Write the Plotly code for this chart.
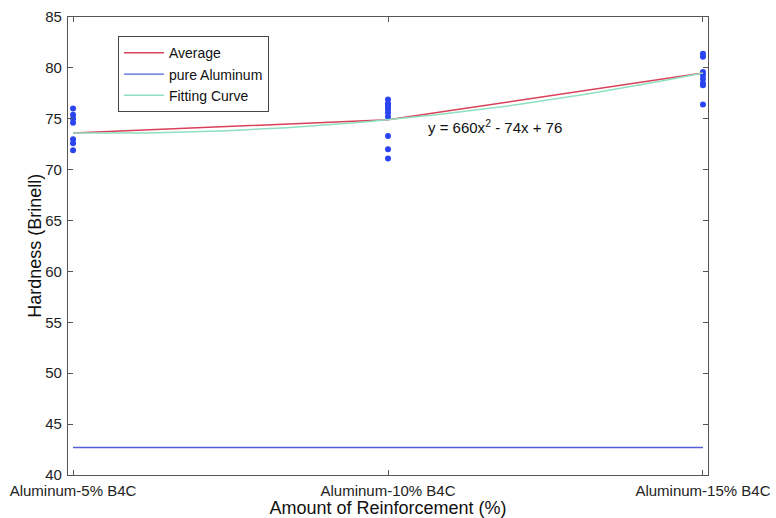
import numpy as np
import plotly.graph_objects as go

categories = ["Aluminum-5% B4C", "Aluminum-10% B4C", "Aluminum-15% B4C"]
reinforcement = [0.05, 0.10, 0.15]
hardness_5 = [76.0, 75.4, 75.0, 74.6, 73.0, 72.6, 71.9]
hardness_10 = [76.9, 76.5, 76.3, 76.1, 75.9, 75.6, 75.2, 73.3, 72.0, 71.1]
hardness_15 = [81.4, 81.1, 79.6, 79.3, 78.9, 78.5, 78.3, 76.4]
average = [73.6, 74.9, 79.5]
pure_aluminum = [42.7, 42.7, 42.7]

font = "Liberation Sans, Arial, sans-serif"
fig = go.Figure()

samples = [hardness_5, hardness_10, hardness_15]
for i, vals in enumerate(samples):
    fig.add_trace(go.Scatter(x=[i] * len(vals), y=vals, mode="markers",
                             marker=dict(color="#2a45f0", size=6),
                             showlegend=False, hoverinfo="y"))

fig.add_trace(go.Scatter(x=[0, 1, 2], y=average, mode="lines", name="Average",
                         line=dict(color="#d9405a", width=1.5)))
fig.add_trace(go.Scatter(x=[0, 1, 2], y=pure_aluminum, mode="lines", name="pure Aluminum",
                         line=dict(color="#5060d8", width=1.3)))

coef = np.polyfit(reinforcement, average, 2)
xs = np.linspace(reinforcement[0], reinforcement[-1], 60)
fig.add_trace(go.Scatter(x=(xs - reinforcement[0]) / 0.05, y=np.polyval(coef, xs),
                         mode="lines", name="Fitting Curve",
                         line=dict(color="#8ee0c0", width=1.5)))

fig.add_annotation(x=1.12, y=74.2, xanchor="left", yanchor="middle", showarrow=False,
                   text="y = 660x<sup>2</sup> - 74x + 76",
                   font=dict(family=font, size=15, color="#111"))

fig.add_annotation(xref="paper", yref="paper", x=-0.052, y=0.5, xanchor="center",
                   yanchor="middle", textangle=-90, showarrow=False,
                   text="Hardness (Brinell)", font=dict(family=font, size=18, color="#111"))

axis_common = dict(showline=True, linecolor="#555", linewidth=1.2, mirror="ticks",
                   ticks="inside", ticklen=5, tickcolor="#555", showgrid=False,
                   zeroline=False, automargin=False,
                   tickfont=dict(family=font, size=15, color="#222"))

fig.update_xaxes(range=[-0.016, 2.016], tickvals=[0, 1, 2], ticktext=categories,
                 ticklabelstandoff=2,
                 title=dict(text="Amount of Reinforcement (%)",
                            font=dict(family=font, size=18, color="#111"), standoff=0),
                 **axis_common)
fig.update_yaxes(range=[40, 85], dtick=5, ticklabelstandoff=2, **axis_common)

fig.update_layout(
    width=776, height=518,
    margin=dict(l=68, r=68, t=17, b=43),
    paper_bgcolor="white", plot_bgcolor="white",
    legend=dict(x=0.078, y=0.958, xanchor="left", yanchor="top",
                bgcolor="white", bordercolor="#444", borderwidth=1,
                font=dict(family=font, size=14, color="#111"),
                itemwidth=40, tracegroupgap=0),
    showlegend=True,
)

fig.write_html("out.html")
